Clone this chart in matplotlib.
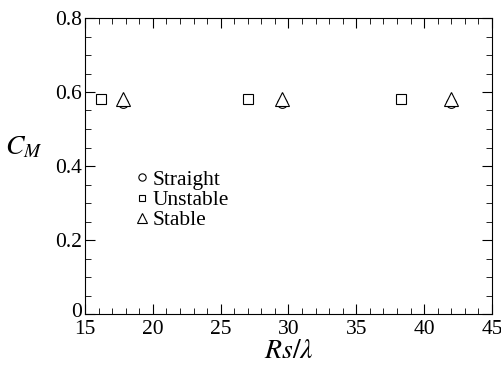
import matplotlib
matplotlib.use('Agg')
import matplotlib.pyplot as plt
import matplotlib.transforms as mtransforms
from matplotlib.ticker import MultipleLocator

plt.rcParams['font.family'] = ['Liberation Serif', 'DejaVu Serif']
plt.rcParams['mathtext.fontset'] = 'stix'

# data
straight_x = [17.8, 29.5, 42.0]
straight_y = [0.571, 0.571, 0.571]
unstable_x = [16.2, 27.0, 38.3]
unstable_y = [0.581, 0.581, 0.581]
stable_x = [17.8, 29.5, 42.0]
stable_y = [0.582, 0.582, 0.582]

fig = plt.figure(figsize=(5.02, 3.69), dpi=100)
ax = fig.add_axes([85/502, 1-314/369, (492-85)/502, (314-18)/369])

ax.plot(straight_x, straight_y, 'o', ms=7, mfc='white', mec='black', mew=0.8, label='Straight')
ax.plot(unstable_x, unstable_y, 's', ms=6.5, mfc='white', mec='black', mew=0.8, label='Unstable')
ax.plot(stable_x, stable_y, '^', ms=9.5, mfc='white', mec='black', mew=0.8, label='Stable')

ax.set_xlim(15, 45)
ax.set_ylim(0, 0.8)
ax.xaxis.set_major_locator(MultipleLocator(5))
ax.xaxis.set_minor_locator(MultipleLocator(1))
ax.yaxis.set_major_locator(MultipleLocator(0.2))
ax.yaxis.set_minor_locator(MultipleLocator(0.05))
ax.set_yticks([0, 0.2, 0.4, 0.6, 0.8])
ax.set_yticklabels(['0', '0.2', '0.4', '0.6', '0.8'])
ax.tick_params(which='both', direction='in', top=True, right=True, labelsize=15.5, pad=2)
ax.tick_params(axis='x', which='major', pad=4)
ax.tick_params(which='major', length=7)
ax.tick_params(which='minor', length=4)

# lift the "0" a bit so it clears the "15"
lbl0 = ax.get_yticklabels()[0]
lbl0.set_transform(lbl0.get_transform() + mtransforms.ScaledTranslation(0, 4/100, fig.dpi_scale_trans))

ax.set_xlabel(r'$Rs/\lambda$', fontsize=20, labelpad=0)
ax.set_ylabel(r'$C_M$', fontsize=20, rotation=0, labelpad=0)
ax.yaxis.set_label_coords(-0.15, 0.52)

leg = ax.legend(loc='upper left', bbox_to_anchor=(0.093, 0.523), frameon=False,
                fontsize=15.5, handletextpad=0.1, labelspacing=0.0, markerscale=0.75,
                handlelength=0.8, borderpad=0)

fig.savefig('out.png', dpi=100)
